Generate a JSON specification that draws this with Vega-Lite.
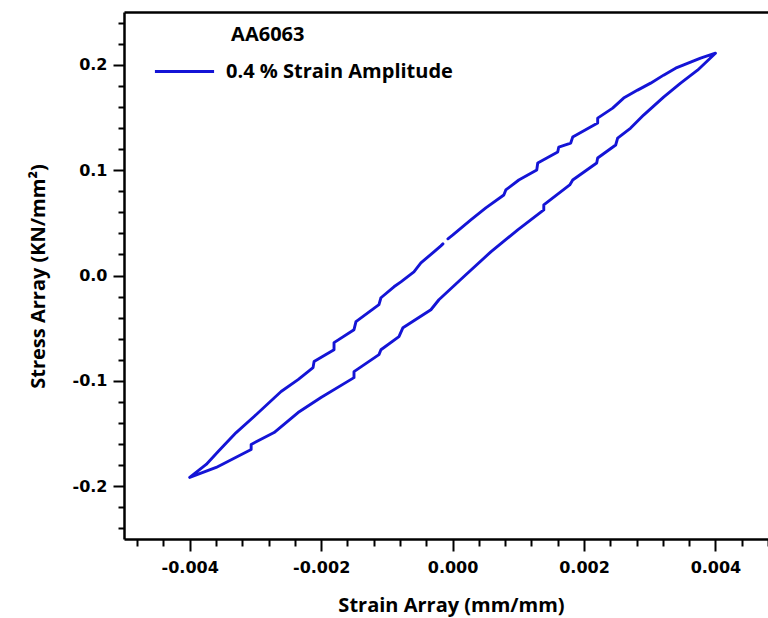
{
  "$schema": "https://vega.github.io/schema/vega-lite/v6.json",
  "width": 644,
  "height": 527,
  "autosize": {"type": "none"},
  "padding": {"left": 124, "top": 12, "right": 0, "bottom": 79},
  "background": "white",
  "config": {
    "view": {"stroke": null},
    "axis": {
      "grid": false,
      "domainColor": "black",
      "domainWidth": 2.5,
      "tickColor": "black",
      "tickWidth": 2,
      "labelColor": "black",
      "labelFont": "DejaVu Sans",
      "labelFontWeight": "bold",
      "labelFontSize": 16,
      "titleColor": "black",
      "titleFont": "Open Sans",
      "titleFontWeight": "bold",
      "titleFontSize": 20
    }
  },
  "datasets": {
    "loop": [
      {"i": 1, "s": 0.0040, "t": 0.2109, "series": "0.4 % Strain Amplitude"},
      {"i": 2, "s": 0.003774, "t": 0.2062, "series": "0.4 % Strain Amplitude"},
      {"i": 3, "s": 0.003622, "t": 0.2024, "series": "0.4 % Strain Amplitude"},
      {"i": 4, "s": 0.003394, "t": 0.1967, "series": "0.4 % Strain Amplitude"},
      {"i": 5, "s": 0.003211, "t": 0.1901, "series": "0.4 % Strain Amplitude"},
      {"i": 6, "s": 0.003014, "t": 0.1825, "series": "0.4 % Strain Amplitude"},
      {"i": 7, "s": 0.002816, "t": 0.1759, "series": "0.4 % Strain Amplitude"},
      {"i": 8, "s": 0.002603, "t": 0.1683, "series": "0.4 % Strain Amplitude"},
      {"i": 9, "s": 0.002436, "t": 0.1588, "series": "0.4 % Strain Amplitude"},
      {"i": 10, "s": 0.002208, "t": 0.1493, "series": "0.4 % Strain Amplitude"},
      {"i": 11, "s": 0.002208, "t": 0.1446, "series": "0.4 % Strain Amplitude"},
      {"i": 12, "s": 0.001828, "t": 0.1313, "series": "0.4 % Strain Amplitude"},
      {"i": 13, "s": 0.001798, "t": 0.1257, "series": "0.4 % Strain Amplitude"},
      {"i": 14, "s": 0.001616, "t": 0.1219, "series": "0.4 % Strain Amplitude"},
      {"i": 15, "s": 0.001600, "t": 0.1171, "series": "0.4 % Strain Amplitude"},
      {"i": 16, "s": 0.001296, "t": 0.1067, "series": "0.4 % Strain Amplitude"},
      {"i": 17, "s": 0.001281, "t": 0.1001, "series": "0.4 % Strain Amplitude"},
      {"i": 18, "s": 0.001008, "t": 0.0906, "series": "0.4 % Strain Amplitude"},
      {"i": 19, "s": 0.000810, "t": 0.0812, "series": "0.4 % Strain Amplitude"},
      {"i": 20, "s": 0.000780, "t": 0.0764, "series": "0.4 % Strain Amplitude"},
      {"i": 21, "s": 0.000506, "t": 0.0641, "series": "0.4 % Strain Amplitude"},
      {"i": 22, "s": 0.000278, "t": 0.0527, "series": "0.4 % Strain Amplitude"},
      {"i": 23, "s": 0.000005, "t": 0.0385, "series": "0.4 % Strain Amplitude"},
      {"i": 23.3, "s": -0.000071, "t": 0.0348, "series": "0.4 % Strain Amplitude"},
      {"i": 23.5, "s": -0.0001, "t": null, "series": "0.4 % Strain Amplitude"},
      {"i": 23.7, "s": -0.000147, "t": 0.0300, "series": "0.4 % Strain Amplitude"},
      {"i": 24, "s": -0.000178, "t": 0.0281, "series": "0.4 % Strain Amplitude"},
      {"i": 25, "s": -0.000284, "t": 0.0224, "series": "0.4 % Strain Amplitude"},
      {"i": 26, "s": -0.000482, "t": 0.0120, "series": "0.4 % Strain Amplitude"},
      {"i": 27, "s": -0.000588, "t": 0.0035, "series": "0.4 % Strain Amplitude"},
      {"i": 28, "s": -0.000786, "t": -0.0060, "series": "0.4 % Strain Amplitude"},
      {"i": 29, "s": -0.000892, "t": -0.0107, "series": "0.4 % Strain Amplitude"},
      {"i": 30, "s": -0.001090, "t": -0.0211, "series": "0.4 % Strain Amplitude"},
      {"i": 31, "s": -0.001120, "t": -0.0277, "series": "0.4 % Strain Amplitude"},
      {"i": 32, "s": -0.001470, "t": -0.0438, "series": "0.4 % Strain Amplitude"},
      {"i": 33, "s": -0.001500, "t": -0.0514, "series": "0.4 % Strain Amplitude"},
      {"i": 34, "s": -0.001804, "t": -0.0637, "series": "0.4 % Strain Amplitude"},
      {"i": 35, "s": -0.001804, "t": -0.0704, "series": "0.4 % Strain Amplitude"},
      {"i": 36, "s": -0.002108, "t": -0.0817, "series": "0.4 % Strain Amplitude"},
      {"i": 37, "s": -0.002123, "t": -0.0874, "series": "0.4 % Strain Amplitude"},
      {"i": 38, "s": -0.002351, "t": -0.0988, "series": "0.4 % Strain Amplitude"},
      {"i": 39, "s": -0.002609, "t": -0.1101, "series": "0.4 % Strain Amplitude"},
      {"i": 40, "s": -0.003020, "t": -0.1338, "series": "0.4 % Strain Amplitude"},
      {"i": 41, "s": -0.003293, "t": -0.1490, "series": "0.4 % Strain Amplitude"},
      {"i": 42, "s": -0.003567, "t": -0.1670, "series": "0.4 % Strain Amplitude"},
      {"i": 43, "s": -0.003749, "t": -0.1793, "series": "0.4 % Strain Amplitude"},
      {"i": 44, "s": -0.0040, "t": -0.1916, "series": "0.4 % Strain Amplitude"},
      {"i": 45, "s": -0.003597, "t": -0.1821, "series": "0.4 % Strain Amplitude"},
      {"i": 46, "s": -0.003065, "t": -0.1651, "series": "0.4 % Strain Amplitude"},
      {"i": 47, "s": -0.003065, "t": -0.1603, "series": "0.4 % Strain Amplitude"},
      {"i": 48, "s": -0.002716, "t": -0.1490, "series": "0.4 % Strain Amplitude"},
      {"i": 49, "s": -0.002351, "t": -0.1300, "series": "0.4 % Strain Amplitude"},
      {"i": 50, "s": -0.002002, "t": -0.1158, "series": "0.4 % Strain Amplitude"},
      {"i": 51, "s": -0.001500, "t": -0.0969, "series": "0.4 % Strain Amplitude"},
      {"i": 52, "s": -0.001500, "t": -0.0912, "series": "0.4 % Strain Amplitude"},
      {"i": 53, "s": -0.001120, "t": -0.0751, "series": "0.4 % Strain Amplitude"},
      {"i": 54, "s": -0.001090, "t": -0.0704, "series": "0.4 % Strain Amplitude"},
      {"i": 55, "s": -0.000816, "t": -0.0580, "series": "0.4 % Strain Amplitude"},
      {"i": 56, "s": -0.000755, "t": -0.0495, "series": "0.4 % Strain Amplitude"},
      {"i": 57, "s": -0.000330, "t": -0.0325, "series": "0.4 % Strain Amplitude"},
      {"i": 58, "s": -0.000208, "t": -0.0230, "series": "0.4 % Strain Amplitude"},
      {"i": 59, "s": 0.000202, "t": 0.0007, "series": "0.4 % Strain Amplitude"},
      {"i": 60, "s": 0.000582, "t": 0.0224, "series": "0.4 % Strain Amplitude"},
      {"i": 61, "s": 0.000992, "t": 0.0433, "series": "0.4 % Strain Amplitude"},
      {"i": 62, "s": 0.001388, "t": 0.0622, "series": "0.4 % Strain Amplitude"},
      {"i": 63, "s": 0.001388, "t": 0.0670, "series": "0.4 % Strain Amplitude"},
      {"i": 64, "s": 0.001783, "t": 0.0859, "series": "0.4 % Strain Amplitude"},
      {"i": 65, "s": 0.001828, "t": 0.0906, "series": "0.4 % Strain Amplitude"},
      {"i": 66, "s": 0.002193, "t": 0.1067, "series": "0.4 % Strain Amplitude"},
      {"i": 67, "s": 0.002208, "t": 0.1115, "series": "0.4 % Strain Amplitude"},
      {"i": 68, "s": 0.002482, "t": 0.1238, "series": "0.4 % Strain Amplitude"},
      {"i": 69, "s": 0.002512, "t": 0.1304, "series": "0.4 % Strain Amplitude"},
      {"i": 70, "s": 0.002710, "t": 0.1399, "series": "0.4 % Strain Amplitude"},
      {"i": 71, "s": 0.002907, "t": 0.1522, "series": "0.4 % Strain Amplitude"},
      {"i": 72, "s": 0.003211, "t": 0.1692, "series": "0.4 % Strain Amplitude"},
      {"i": 73, "s": 0.003470, "t": 0.1825, "series": "0.4 % Strain Amplitude"},
      {"i": 74, "s": 0.003728, "t": 0.1948, "series": "0.4 % Strain Amplitude"},
      {"i": 75, "s": 0.0040, "t": 0.2109, "series": "0.4 % Strain Amplitude"}
    ],
    "note": [{"s": -0.00337, "t": 0.228, "label": "AA6063"}]
  },
  "layer": [
    {
      "data": {"name": "loop"},
      "mark": {"type": "line", "strokeWidth": 2.9, "strokeJoin": "round", "strokeCap": "round"},
      "encoding": {
        "x": {
          "field": "s", "type": "quantitative",
          "scale": {"domain": [-0.005, 0.0048], "nice": false, "zero": false},
          "axis": {
            "orient": "bottom",
            "title": "Strain Array (mm/mm)",
            "values": [-0.0048, -0.0044, -0.004, -0.0036, -0.0032, -0.0028, -0.0024, -0.002, -0.0016, -0.0012, -0.0008, -0.0004, 0, 0.0004, 0.0008, 0.0012, 0.0016, 0.002, 0.0024, 0.0028, 0.0032, 0.0036, 0.004, 0.0044, 0.0048],
            "labelExpr": "slice(format(datum.value,'.4f'),-1)=='0' ? replace(format(datum.value,'.3f'),'\u2212','-') : ''",
            "tickSize": {"condition": {"test": "slice(format(datum.value,'.4f'),-1)=='0'", "value": 12}, "value": 7},
            "labelPadding": 8,
            "labelBaseline": "top",
            "labelFlush": false,
            "labelOverlap": false,
            "titleX": 327,
            "titleY": 66,
            "titleAlign": "center",
            "titleBaseline": "middle"
          }
        },
        "y": {
          "field": "t", "type": "quantitative",
          "scale": {"domain": [-0.25, 0.25], "nice": false, "zero": false},
          "axis": {
            "orient": "left",
            "title": "Stress Array (KN/mm²)",
            "values": [-0.24, -0.22, -0.2, -0.18, -0.16, -0.14, -0.12, -0.1, -0.08, -0.06, -0.04, -0.02, 0, 0.02, 0.04, 0.06, 0.08, 0.1, 0.12, 0.14, 0.16, 0.18, 0.2, 0.22, 0.24],
            "labelExpr": "slice(format(datum.value,'.2f'),-1)=='0' ? replace(format(datum.value,'.1f'),'\u2212','-') : ''",
            "tickSize": {"condition": {"test": "slice(format(datum.value,'.2f'),-1)=='0'", "value": 11}, "value": 6},
            "labelPadding": 6,
            "labelFlush": false,
            "labelOverlap": false,
            "titleX": -86,
            "titleY": 264,
            "titleAngle": -90,
            "titleAlign": "center",
            "titleBaseline": "middle"
          }
        },
        "order": {"field": "i", "type": "quantitative"},
        "color": {
          "field": "series", "type": "nominal",
          "scale": {"range": ["#1414d6"]},
          "legend": {
            "orient": "none",
            "legendX": 29,
            "legendY": 28,
            "title": null,
            "padding": 0,
            "symbolType": "stroke",
            "symbolSize": 3500,
            "symbolStrokeWidth": 2.9,
            "labelFont": "Open Sans",
            "labelFontWeight": "bold",
            "labelFontSize": 20,
            "labelColor": "black",
            "labelOffset": 10,
            "labelLimit": 400
          }
        }
      }
    },
    {
      "data": {"name": "note"},
      "mark": {"type": "text", "align": "left", "baseline": "middle", "font": "Open Sans", "fontSize": 20, "fontWeight": "bold", "color": "black"},
      "encoding": {
        "x": {"field": "s", "type": "quantitative", "axis": {"orient": "top", "labels": false, "ticks": false, "domain": true, "title": null}},
        "y": {"field": "t", "type": "quantitative", "axis": null},
        "text": {"field": "label"}
      }
    }
  ],
  "resolve": {"axis": {"x": "independent", "y": "independent"}}
}
